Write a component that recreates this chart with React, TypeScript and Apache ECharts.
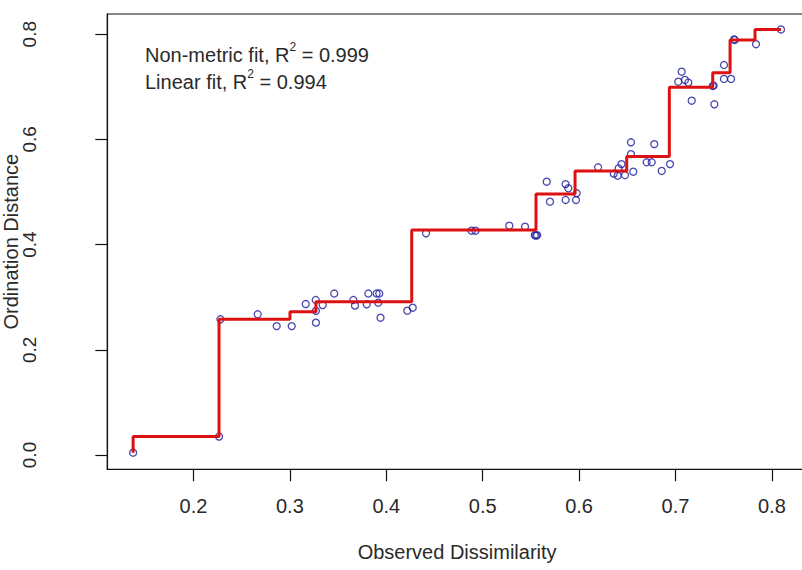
import React, { useEffect, useRef } from "react";
import * as echarts from "echarts";

// Observed dissimilarity (x) and ordination distance (y) of each pair
const observedX = [
  0.1374, 0.2265, 0.228, 0.2666, 0.2863, 0.3019, 0.3164, 0.3268, 0.327, 0.327,
  0.334, 0.346, 0.3658, 0.3675, 0.3797, 0.3814, 0.39, 0.3927, 0.3917, 0.394,
  0.4218, 0.4274, 0.4412, 0.4885, 0.4925, 0.5276, 0.5439, 0.554, 0.5553, 0.5565,
  0.5664, 0.5698, 0.586, 0.586, 0.5888, 0.5968, 0.5975, 0.6197, 0.636, 0.64,
  0.641, 0.644, 0.6476, 0.6538, 0.6538, 0.6562, 0.6701, 0.6753, 0.678, 0.6857,
  0.6943, 0.7029, 0.7064, 0.7098, 0.7133, 0.7168, 0.7386, 0.7395, 0.7403, 0.7503,
  0.7503, 0.7576, 0.7607, 0.7615, 0.7835, 0.8094,
];
const ordinationY = [
  0.0044, 0.035, 0.258, 0.2675, 0.245, 0.245, 0.287, 0.2947, 0.274, 0.2516,
  0.285, 0.307, 0.2947, 0.284, 0.2865, 0.307, 0.307, 0.307, 0.2896, 0.261,
  0.2744, 0.28, 0.4215, 0.4264, 0.4264, 0.436, 0.434, 0.418, 0.417, 0.418,
  0.5196, 0.4816, 0.515, 0.4848, 0.507, 0.4848, 0.4975, 0.547, 0.535, 0.531,
  0.545, 0.553, 0.532, 0.5945, 0.572, 0.5386, 0.5565, 0.5565, 0.591, 0.54,
  0.553, 0.7097, 0.7287, 0.713, 0.708, 0.6736, 0.7015, 0.7025, 0.6667, 0.7414,
  0.715, 0.715, 0.79, 0.789, 0.781, 0.809,
];

// Non-metric (isotonic) fit: step knots
const fitX = [0.1374, 0.2265, 0.3001, 0.327, 0.4264, 0.5553, 0.5958, 0.6494, 0.6936, 0.7386, 0.7566, 0.7825, 0.8094];
const fitY = [0.0044, 0.035, 0.258, 0.2725, 0.2915, 0.4278, 0.496, 0.54, 0.5675, 0.699, 0.7268, 0.789, 0.809];

const xTicks = [0.2, 0.3, 0.4, 0.5, 0.6, 0.7, 0.8];
const yTicks = [0.0, 0.2, 0.4, 0.6, 0.8];

const FONT = "'Liberation Sans', Arial, sans-serif";
const TXT = "#2a2a2a";

export default function App() {
  const ref = useRef<HTMLDivElement>(null);
  useEffect(() => {
    if (!ref.current) return;
    const chart = echarts.init(ref.current, undefined, { renderer: "svg" });
    const points = observedX.map((x, i) => [x, ordinationY[i]]);
    const fit = fitX.map((x, i) => [x, fitY[i]]);
    chart.setOption({
      animation: false,
      backgroundColor: "#fff",
      grid: {
        left: 107.3,
        top: 14,
        width: 699.6,
        height: 455.3,
        show: true,
        borderColor: "#111",
        borderWidth: 1.2,
        backgroundColor: "transparent",
        outerBoundsMode: "none",
      },
      xAxis: {
        type: "value",
        min: 0.1106,
        max: 0.8363,
        name: "Observed Dissimilarity",
        nameLocation: "middle",
        nameGap: 73,
        nameMoveOverlap: false,
        nameTextStyle: { fontSize: 20, fontFamily: FONT, color: TXT },
        axisLine: { show: true, onZero: false, lineStyle: { color: "#111", width: 1.2 } },
        axisTick: {
          show: true,
          inside: false,
          length: 12,
          customValues: xTicks,
          lineStyle: { color: "#111", width: 1.2 },
        },
        axisLabel: {
          margin: 27,
          fontSize: 20,
          fontFamily: FONT,
          color: TXT,
          customValues: xTicks,
          formatter: (v: number) => v.toFixed(1),
        },
        splitLine: { show: false },
      },
      yAxis: {
        type: "value",
        min: -0.0272,
        max: 0.8384,
        name: "Ordination Distance",
        nameLocation: "middle",
        nameRotate: 90,
        nameGap: 86,
        nameMoveOverlap: false,
        nameTextStyle: { fontSize: 20, fontFamily: FONT, color: TXT },
        axisLine: { show: true, onZero: false, lineStyle: { color: "#111", width: 1.2 } },
        axisTick: {
          show: true,
          inside: false,
          length: 12,
          customValues: yTicks,
          lineStyle: { color: "#111", width: 1.2 },
        },
        axisLabel: {
          margin: 68,
          rotate: 90,
          fontSize: 19,
          fontFamily: FONT,
          color: TXT,
          customValues: yTicks,
          formatter: (v: number) => v.toFixed(1),
        },
        splitLine: { show: false },
      },
      series: [
        {
          type: "scatter",
          data: points,
          symbol: "circle",
          symbolSize: 7,
          itemStyle: { color: "rgba(0,0,0,0)", borderColor: "#1a1a9a", borderWidth: 1.3 },
          z: 2,
        },
        {
          type: "line",
          data: fit,
          step: "start",
          showSymbol: false,
          symbol: "none",
          lineStyle: { color: "#dd1111", width: 3 },
          z: 3,
        },
      ],
      graphic: [
        {
          type: "text",
          left: 145,
          top: 41,
          style: {
            text: "{a|Non-metric fit, R}{s|2}{a| = 0.999}\n{a|Linear fit, R}{s|2}{a| = 0.994}",
            rich: {
              a: { fontSize: 20, lineHeight: 27, fontFamily: FONT, fill: TXT },
              s: { fontSize: 12, lineHeight: 12, fontFamily: FONT, fill: TXT, verticalAlign: "top" },
            },
          },
        },
      ],
    });
    return () => chart.dispose();
  }, []);
  return (
    <div
      style={{ position: "absolute", left: 0, top: 0, width: 802, height: 570, overflow: "hidden" }}
    >
      <div ref={ref} style={{ width: 812, height: 570 }} />
    </div>
  );
}
